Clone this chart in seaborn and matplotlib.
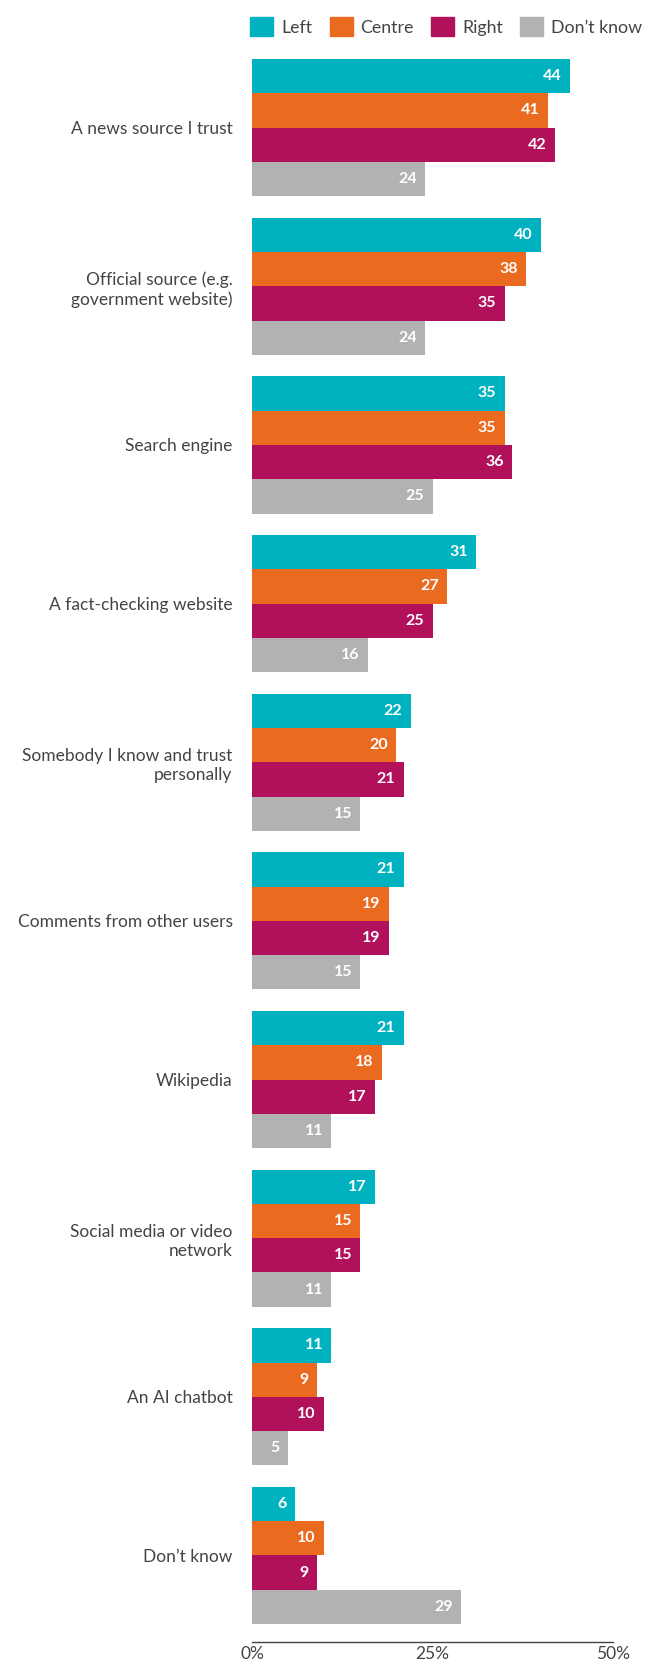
import pandas as pd
import seaborn as sns
import matplotlib.pyplot as plt

sources = ['A news source I trust', 'Official source (e.g.\ngovernment website)', 'Search engine',
           'A fact-checking website', 'Somebody I know and trust\npersonally', 'Comments from other users',
           'Wikipedia', 'Social media or video\nnetwork', 'An AI chatbot', 'Don\u2019t know']
groups = ['Left', 'Centre', 'Right', 'Don\u2019t know']
left = [44, 40, 35, 31, 22, 21, 21, 17, 11, 6]
centre = [41, 38, 35, 27, 20, 19, 18, 15, 9, 10]
right = [42, 35, 36, 25, 21, 19, 17, 15, 10, 9]
dont_know = [24, 24, 25, 16, 15, 15, 11, 11, 5, 29]
colors = ['#00B2BF', '#EA6A1F', '#B0115A', '#B2B2B2']

df = pd.DataFrame({'source': sources, 'Left': left, 'Centre': centre,
                   'Right': right, 'Don\u2019t know': dont_know})
df = df.melt(id_vars='source', var_name='group', value_name='value')

sns.set_style('white')
plt.rcParams['font.family'] = ['Lato', 'DejaVu Sans']

fig = plt.figure(figsize=(6.56, 16.66), dpi=100)
ax = fig.add_axes([252 / 656, 1 - 1642 / 1666, 361 / 656, (1642 - 59) / 1666])

sns.barplot(data=df, y='source', x='value', hue='group', hue_order=groups, order=sources,
            orient='h', palette=colors, width=0.865, saturation=1, linewidth=0, ax=ax)

for cont in ax.containers:
    labels = ax.bar_label(cont, padding=-6, color='white', fontsize=11.5, fontweight='bold')
    for t in labels:
        t.set_ha('right')

ax.set_xlim(0, 50)
ax.set_ylim(9 + 0.4325 + 0.113, -0.4325)
ax.set_xticks([0, 25, 50])
ax.set_xticklabels(['0%', '25%', '50%'])
ax.set_xlabel('')
ax.set_ylabel('')
ax.tick_params(axis='both', length=0, colors='#444444', labelsize=12.5)
ax.tick_params(axis='y', pad=14)
ax.tick_params(axis='x', pad=3)
for t in ax.get_yticklabels():
    t.set_linespacing(1.25)
for s in ['top', 'right', 'left']:
    ax.spines[s].set_visible(False)
ax.spines['bottom'].set_color('#444444')
ax.spines['bottom'].set_linewidth(1)

ax.legend_.remove()
handles = [plt.Rectangle((0, 0), 1, 1, color=c) for c in colors]
fig.legend(handles, groups, loc='upper right', bbox_to_anchor=(658 / 656, 1 - 1 / 1666), ncol=4,
           frameon=False, fontsize=12.8, handlelength=1.3, handleheight=1.3,
           handletextpad=0.45, columnspacing=0.95, labelcolor='#444444')

fig.savefig('out.png', dpi=100)
